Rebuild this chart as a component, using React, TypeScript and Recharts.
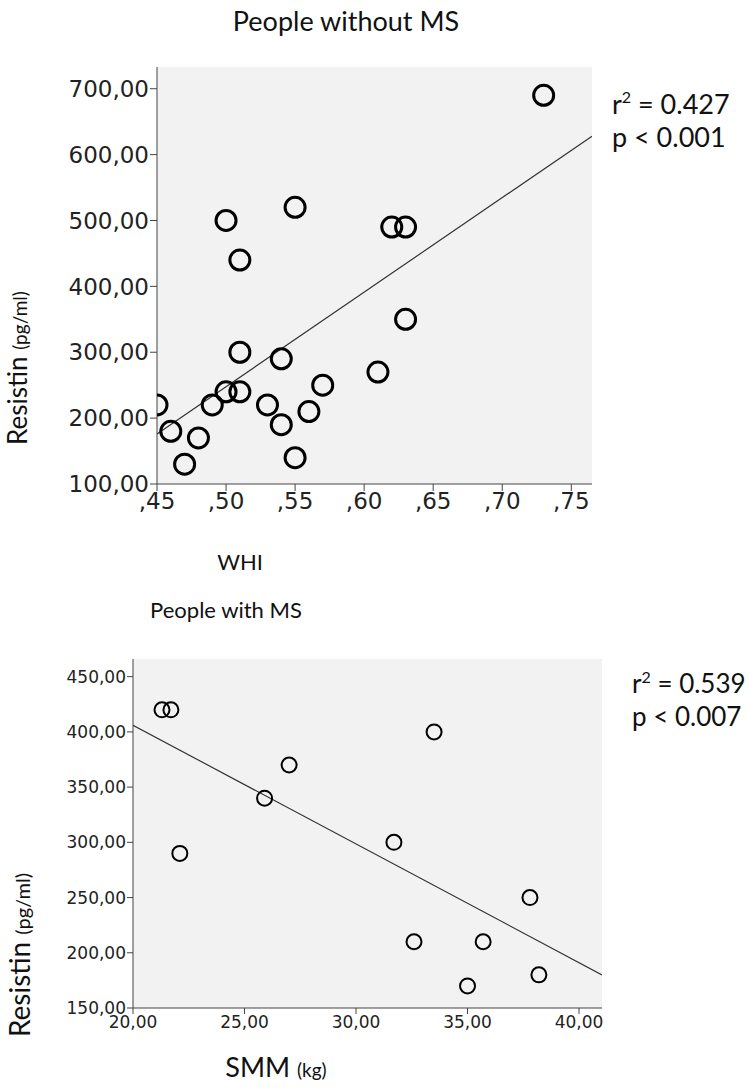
import { ScatterChart, Scatter, XAxis, YAxis, CartesianGrid } from 'recharts';

// People without MS: WHI vs resistin
const whi = [0.45, 0.46, 0.47, 0.48, 0.49, 0.5, 0.51, 0.51, 0.5, 0.51, 0.53, 0.54, 0.54, 0.55, 0.55, 0.56, 0.57, 0.61, 0.62, 0.63, 0.63, 0.73];
const resistinNoMs = [220, 180, 130, 170, 220, 240, 240, 300, 500, 440, 220, 290, 190, 140, 520, 210, 250, 270, 490, 490, 350, 690];
const whiTicks = [0.45, 0.5, 0.55, 0.6, 0.65, 0.7, 0.75];
const resistinTicksTop = [100, 200, 300, 400, 500, 600, 700];
const fitWhi = [0.45, 0.765];
const fitResistinTop = [176, 628];

// People with MS: SMM vs resistin
const smm = [21.3, 21.7, 22.1, 25.9, 27.0, 31.7, 33.5, 32.6, 35.0, 35.7, 37.8, 38.2];
const resistinMs = [420, 420, 290, 340, 370, 300, 400, 210, 170, 210, 250, 180];
const smmTicks = [20, 25, 30, 35, 40];
const resistinTicksBottom = [150, 200, 250, 300, 350, 400, 450];
const fitSmm = [20, 41.03];
const fitResistinBottom = [406, 180];

const topPoints = whi.map((x, i) => ({ x, y: resistinNoMs[i] }));
const topFit = fitWhi.map((x, i) => ({ x, y: fitResistinTop[i] }));
const bottomPoints = smm.map((x, i) => ({ x, y: resistinMs[i] }));
const bottomFit = fitSmm.map((x, i) => ({ x, y: fitResistinBottom[i] }));

const fmtComma = (v: number) => v.toFixed(2).replace('.', ',');
const fmtWhi = (v: number) => v.toFixed(2).replace(/^0\./, ',');

const ring = (r: number, w: number) => (props: any) => (
  <circle cx={props.cx} cy={props.cy} r={r} fill="none" stroke="#000" strokeWidth={w} />
);
const noDot = () => <g />;

const txt = { fontFamily: 'Lato, sans-serif', fill: '#111' };

export default function App() {
  const tickTop = { fontFamily: 'DejaVu Sans', fontSize: 23, fill: '#222' };
  const tickBottom = { fontFamily: 'DejaVu Sans', fontSize: 17, fill: '#222' };
  const dark = { stroke: '#444' };

  return (
    <div style={{ position: 'absolute', left: 0, top: 0, width: 749, height: 1088, background: '#fff' }}>
      <div style={{ position: 'absolute', left: 0, top: 0 }}>
        <ScatterChart width={749} height={560} margin={{ top: 67, right: 157, bottom: 36, left: 0 }}>
          <CartesianGrid fill="#f2f2f2" horizontal={false} vertical={false} />
          <XAxis type="number" dataKey="x" domain={[0.45, 0.765]} ticks={whiTicks} tickFormatter={fmtWhi}
            allowDataOverflow height={40} tick={tickTop} axisLine={dark} tickLine={dark} tickSize={7} />
          <YAxis type="number" dataKey="y" domain={[100, 733]} ticks={resistinTicksTop} tickFormatter={fmtComma}
            allowDataOverflow width={157} tick={tickTop} axisLine={dark} tickLine={dark} tickSize={7} tickMargin={1} />
          <XAxis xAxisId="t" orientation="top" type="number" domain={[0.45, 0.765]} height={0} tick={false}
            tickLine={false} axisLine={{ stroke: '#8c8c8c' }} />
          <YAxis yAxisId="r" orientation="right" type="number" domain={[100, 733]} width={0} tick={false}
            tickLine={false} axisLine={{ stroke: '#8c8c8c' }} />
          <Scatter data={topFit} line={{ stroke: '#333', strokeWidth: 1.2 }} shape={noDot} isAnimationActive={false} />
          <Scatter data={topPoints} shape={ring(10, 3)} isAnimationActive={false} />
        </ScatterChart>
      </div>

      <div style={{ position: 'absolute', left: 0, top: 600 }}>
        <ScatterChart width={749} height={460} margin={{ top: 59, right: 147, bottom: 22, left: 0 }}>
          <CartesianGrid fill="#f2f2f2" horizontal={false} vertical={false} />
          <XAxis type="number" dataKey="x" domain={[20, 41.03]} ticks={smmTicks} tickFormatter={fmtComma}
            allowDataOverflow height={30} tick={tickBottom} axisLine={dark} tickLine={dark} tickSize={6} />
          <YAxis type="number" dataKey="y" domain={[150, 466]} ticks={resistinTicksBottom} tickFormatter={fmtComma}
            allowDataOverflow width={133} tick={tickBottom} axisLine={dark} tickLine={dark} tickSize={6} tickMargin={1} />
          <XAxis xAxisId="t" orientation="top" type="number" domain={[20, 41.03]} height={0} tick={false}
            tickLine={false} axisLine={{ stroke: '#8c8c8c' }} />
          <YAxis yAxisId="r" orientation="right" type="number" domain={[150, 466]} width={0} tick={false}
            tickLine={false} axisLine={{ stroke: '#8c8c8c' }} />
          <Scatter data={bottomFit} line={{ stroke: '#333', strokeWidth: 1.2 }} shape={noDot} isAnimationActive={false} />
          <Scatter data={bottomPoints} shape={ring(7.5, 2)} isAnimationActive={false} />
        </ScatterChart>
      </div>

      <svg width={749} height={1088} style={{ position: 'absolute', left: 0, top: 0, pointerEvents: 'none' }}>
        <text x={346} y={31} textAnchor="middle" fontSize={27} {...txt}>People without MS</text>
        <text x={612} y={114} fontSize={27} {...txt}>
          r<tspan dy={-11} fontSize={16}>2</tspan><tspan dy={11}> = 0.427</tspan>
        </text>
        <text x={612} y={147} fontSize={27} {...txt}>p &lt; 0.001</text>
        <text transform="translate(27,368) rotate(-90)" textAnchor="middle" {...txt}>
          <tspan fontSize={26}>Resistin </tspan><tspan fontSize={19}>(pg/ml)</tspan>
        </text>
        <text x={240} y={570} textAnchor="middle" fontSize={22} {...txt}>WHI</text>

        <text x={226} y={618} textAnchor="middle" fontSize={22} {...txt}>People with MS</text>
        <text x={632} y={693} fontSize={26} {...txt}>
          r<tspan dy={-10} fontSize={16}>2</tspan><tspan dy={10}> = 0.539</tspan>
        </text>
        <text x={632} y={726} fontSize={26} {...txt}>p &lt; 0.007</text>
        <text transform="translate(30,955) rotate(-90)" textAnchor="middle" {...txt}>
          <tspan fontSize={28}>Resistin </tspan><tspan fontSize={20}>(pg/ml)</tspan>
        </text>
        <text x={276} y={1077} textAnchor="middle" {...txt}>
          <tspan fontSize={27}>SMM </tspan><tspan fontSize={19}>(kg)</tspan>
        </text>
      </svg>
    </div>
  );
}
